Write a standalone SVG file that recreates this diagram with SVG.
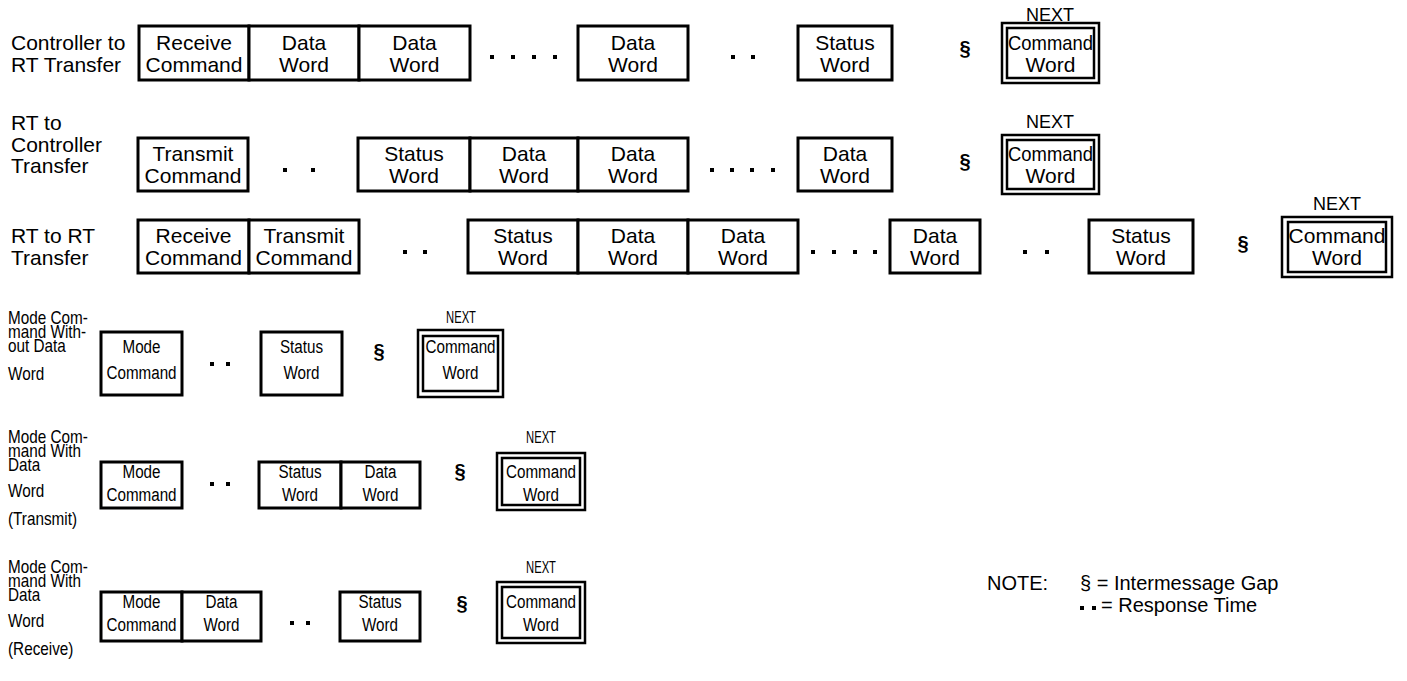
<svg xmlns="http://www.w3.org/2000/svg" width="1407" height="681" viewBox="0 0 1407 681">
<style>
.b{fill:#fff;stroke:#000;stroke-width:3}
.o{fill:#fff;stroke:#000;stroke-width:2.5}
.i{fill:none;stroke:#000;stroke-width:2.5}
text{font-family:"Liberation Sans",Arial,Helvetica,sans-serif;fill:#000}
.t{font-size:21px;text-anchor:middle}
.l{font-size:21px}
.c{font-size:19px;text-anchor:middle}
.cl{font-size:18px}
.nx{font-size:18px;text-anchor:middle}
.nx2{font-size:17px;text-anchor:middle}
.g{font-size:20px;font-weight:bold;text-anchor:middle}
.nt{font-size:20px}
.d{fill:#000}
</style>
<defs>
<rect id="dot" x="-2" y="-2" width="4" height="4"/>
</defs>
<rect width="1407" height="681" fill="#fff"/>

<!-- Row 1 -->
<g id="row1-label"><text class="l" x="11" y="50">Controller to</text><text class="l" x="11" y="72">RT Transfer</text></g>
<g id="r1-receive-command"><rect class="b" x="139" y="26" width="110" height="54"/><text class="t" x="194" y="50">Receive</text><text class="t" x="194" y="72">Command</text></g>
<g id="r1-data-word-1"><rect class="b" x="249" y="26" width="110" height="54"/><text class="t" x="304" y="50">Data</text><text class="t" x="304" y="72">Word</text></g>
<g id="r1-data-word-2"><rect class="b" x="359" y="26" width="111" height="54"/><text class="t" x="414.5" y="50">Data</text><text class="t" x="414.5" y="72">Word</text></g>
<g id="r1-data-word-3"><rect class="b" x="578" y="26" width="110" height="54"/><text class="t" x="633" y="50">Data</text><text class="t" x="633" y="72">Word</text></g>
<g id="r1-status-word"><rect class="b" x="798" y="26" width="94" height="54"/><text class="t" x="845" y="50">Status</text><text class="t" x="845" y="72">Word</text></g>
<g id="r1-next-command"><text class="nx" x="1050" y="21">NEXT</text><rect class="o" x="1002" y="23" width="97" height="60"/><rect class="i" x="1007" y="28" width="87" height="50"/><text class="t" x="1050.5" y="50" textLength="85" lengthAdjust="spacingAndGlyphs">Command</text><text class="t" x="1050.5" y="72">Word</text></g>

<!-- Row 2 -->
<g id="row2-label"><text class="l" x="11" y="130">RT to</text><text class="l" x="11" y="152">Controller</text><text class="l" x="11" y="173">Transfer</text></g>
<g id="r2-transmit-command"><rect class="b" x="138" y="138" width="110" height="53"/><text class="t" x="193" y="161">Transmit</text><text class="t" x="193" y="183">Command</text></g>
<g id="r2-status-word"><rect class="b" x="358" y="138" width="112" height="53"/><text class="t" x="414" y="161">Status</text><text class="t" x="414" y="183">Word</text></g>
<g id="r2-data-word-1"><rect class="b" x="470" y="138" width="108" height="53"/><text class="t" x="524" y="161">Data</text><text class="t" x="524" y="183">Word</text></g>
<g id="r2-data-word-2"><rect class="b" x="578" y="138" width="110" height="53"/><text class="t" x="633" y="161">Data</text><text class="t" x="633" y="183">Word</text></g>
<g id="r2-data-word-3"><rect class="b" x="798" y="138" width="94" height="53"/><text class="t" x="845" y="161">Data</text><text class="t" x="845" y="183">Word</text></g>
<g id="r2-next-command"><text class="nx" x="1050" y="128">NEXT</text><rect class="o" x="1002" y="135" width="97" height="59"/><rect class="i" x="1007" y="140" width="87" height="49"/><text class="t" x="1050.5" y="161" textLength="85" lengthAdjust="spacingAndGlyphs">Command</text><text class="t" x="1050.5" y="183">Word</text></g>

<!-- Row 3 -->
<g id="row3-label"><text class="l" x="11" y="243">RT to RT</text><text class="l" x="11" y="265">Transfer</text></g>
<g id="r3-receive-command"><rect class="b" x="138" y="220" width="111" height="53"/><text class="t" x="193.5" y="243">Receive</text><text class="t" x="193.5" y="265">Command</text></g>
<g id="r3-transmit-command"><rect class="b" x="249" y="220" width="110" height="53"/><text class="t" x="304" y="243">Transmit</text><text class="t" x="304" y="265">Command</text></g>
<g id="r3-status-word-1"><rect class="b" x="468" y="220" width="110" height="53"/><text class="t" x="523" y="243">Status</text><text class="t" x="523" y="265">Word</text></g>
<g id="r3-data-word-1"><rect class="b" x="578" y="220" width="110" height="53"/><text class="t" x="633" y="243">Data</text><text class="t" x="633" y="265">Word</text></g>
<g id="r3-data-word-2"><rect class="b" x="688" y="220" width="110" height="53"/><text class="t" x="743" y="243">Data</text><text class="t" x="743" y="265">Word</text></g>
<g id="r3-data-word-3"><rect class="b" x="890" y="220" width="90" height="53"/><text class="t" x="935" y="243">Data</text><text class="t" x="935" y="265">Word</text></g>
<g id="r3-status-word-2"><rect class="b" x="1089" y="220" width="104" height="53"/><text class="t" x="1141" y="243">Status</text><text class="t" x="1141" y="265">Word</text></g>
<g id="r3-next-command"><text class="nx" x="1337" y="210">NEXT</text><rect class="o" x="1282" y="217" width="110" height="60"/><rect class="i" x="1288" y="222" width="98" height="50"/><text class="t" x="1337" y="243">Command</text><text class="t" x="1337" y="265">Word</text></g>

<!-- Row 4 -->
<g id="row4-label"><text class="cl" transform="translate(8,324) scale(0.85,1)">Mode Com-</text><text class="cl" transform="translate(8,338) scale(0.85,1)">mand With-</text><text class="cl" transform="translate(8,352) scale(0.85,1)">out Data</text><text class="cl" transform="translate(8,380) scale(0.85,1)">Word</text></g>
<g id="r4-mode-command"><rect class="b" x="101" y="332" width="81" height="63"/><text class="c" transform="translate(141.5,353) scale(0.8,1)">Mode</text><text class="c" transform="translate(141.5,379) scale(0.8,1)">Command</text></g>
<g id="r4-status-word"><rect class="b" x="261" y="332" width="81" height="63"/><text class="c" transform="translate(301.5,353) scale(0.8,1)">Status</text><text class="c" transform="translate(301.5,379) scale(0.8,1)">Word</text></g>
<g id="r4-next-command"><text class="nx2" transform="translate(461,323) scale(0.66,1)">NEXT</text><rect class="o" x="418" y="330" width="85" height="67"/><rect class="i" x="423" y="336" width="75" height="55"/><text class="c" transform="translate(460.5,353) scale(0.8,1)">Command</text><text class="c" transform="translate(460.5,379) scale(0.8,1)">Word</text></g>

<!-- Row 5 -->
<g id="row5-label"><text class="cl" transform="translate(8,443) scale(0.85,1)">Mode Com-</text><text class="cl" transform="translate(8,457) scale(0.85,1)">mand With</text><text class="cl" transform="translate(8,471) scale(0.85,1)">Data</text><text class="cl" transform="translate(8,497) scale(0.85,1)">Word</text><text class="cl" transform="translate(8,525) scale(0.85,1)">(Transmit)</text></g>
<g id="r5-mode-command"><rect class="b" x="101" y="462" width="81" height="46"/><text class="c" transform="translate(141.5,478) scale(0.8,1)">Mode</text><text class="c" transform="translate(141.5,501) scale(0.8,1)">Command</text></g>
<g id="r5-status-word"><rect class="b" x="259" y="462" width="82" height="46"/><text class="c" transform="translate(300,478) scale(0.8,1)">Status</text><text class="c" transform="translate(300,501) scale(0.8,1)">Word</text></g>
<g id="r5-data-word"><rect class="b" x="341" y="462" width="79" height="46"/><text class="c" transform="translate(380.5,478) scale(0.8,1)">Data</text><text class="c" transform="translate(380.5,501) scale(0.8,1)">Word</text></g>
<g id="r5-next-command"><text class="nx2" transform="translate(541,443) scale(0.66,1)">NEXT</text><rect class="o" x="497" y="453" width="88" height="57"/><rect class="i" x="502" y="458" width="78" height="47"/><text class="c" transform="translate(541,478) scale(0.8,1)">Command</text><text class="c" transform="translate(541,501) scale(0.8,1)">Word</text></g>

<!-- Row 6 -->
<g id="row6-label"><text class="cl" transform="translate(8,573) scale(0.85,1)">Mode Com-</text><text class="cl" transform="translate(8,587) scale(0.85,1)">mand With</text><text class="cl" transform="translate(8,601) scale(0.85,1)">Data</text><text class="cl" transform="translate(8,627) scale(0.85,1)">Word</text><text class="cl" transform="translate(8,655) scale(0.85,1)">(Receive)</text></g>
<g id="r6-mode-command"><rect class="b" x="101" y="592" width="81" height="49"/><text class="c" transform="translate(141.5,608) scale(0.8,1)">Mode</text><text class="c" transform="translate(141.5,631) scale(0.8,1)">Command</text></g>
<g id="r6-data-word"><rect class="b" x="182" y="592" width="79" height="49"/><text class="c" transform="translate(221.5,608) scale(0.8,1)">Data</text><text class="c" transform="translate(221.5,631) scale(0.8,1)">Word</text></g>
<g id="r6-status-word"><rect class="b" x="340" y="592" width="80" height="49"/><text class="c" transform="translate(380,608) scale(0.8,1)">Status</text><text class="c" transform="translate(380,631) scale(0.8,1)">Word</text></g>
<g id="r6-next-command"><text class="nx2" transform="translate(541,573) scale(0.66,1)">NEXT</text><rect class="o" x="497" y="582" width="88" height="61"/><rect class="i" x="502" y="587" width="78" height="51"/><text class="c" transform="translate(541,608) scale(0.8,1)">Command</text><text class="c" transform="translate(541,631) scale(0.8,1)">Word</text></g>

<!-- timing markers (response time dots and intermessage gaps) -->
<g id="connectors" class="d">
<use href="#dot" x="492" y="57"/><use href="#dot" x="513" y="57"/><use href="#dot" x="534" y="57"/><use href="#dot" x="555" y="57"/>
<use href="#dot" x="733" y="57"/><use href="#dot" x="753" y="57"/>
<use href="#dot" x="285" y="170"/><use href="#dot" x="313" y="170"/>
<use href="#dot" x="712" y="170"/><use href="#dot" x="732" y="170"/><use href="#dot" x="752" y="170"/><use href="#dot" x="773" y="170"/>
<use href="#dot" x="405" y="252"/><use href="#dot" x="425" y="252"/>
<use href="#dot" x="813" y="252"/><use href="#dot" x="834" y="252"/><use href="#dot" x="855" y="252"/><use href="#dot" x="875" y="252"/>
<use href="#dot" x="1025" y="252"/><use href="#dot" x="1047" y="252"/>
<use href="#dot" x="212" y="364"/><use href="#dot" x="228" y="364"/>
<use href="#dot" x="212" y="484"/><use href="#dot" x="228" y="484"/>
<use href="#dot" x="292" y="623"/><use href="#dot" x="308" y="623"/>
<text class="g" x="965" y="55">§</text>
<text class="g" x="965" y="168">§</text>
<text class="g" x="1243" y="250">§</text>
<text class="g" x="379" y="358">§</text>
<text class="g" x="460" y="478">§</text>
<text class="g" x="462" y="610">§</text>
</g>

<!-- Note -->
<g id="note">
<text class="nt" x="987" y="590">NOTE:</text>
<text class="nt" x="1080" y="590">§ = Intermessage Gap</text>
<use href="#dot" class="d" x="1082" y="608"/><use href="#dot" class="d" x="1094" y="608"/>
<text class="nt" x="1101" y="612">= Response Time</text>
</g>
</svg>
